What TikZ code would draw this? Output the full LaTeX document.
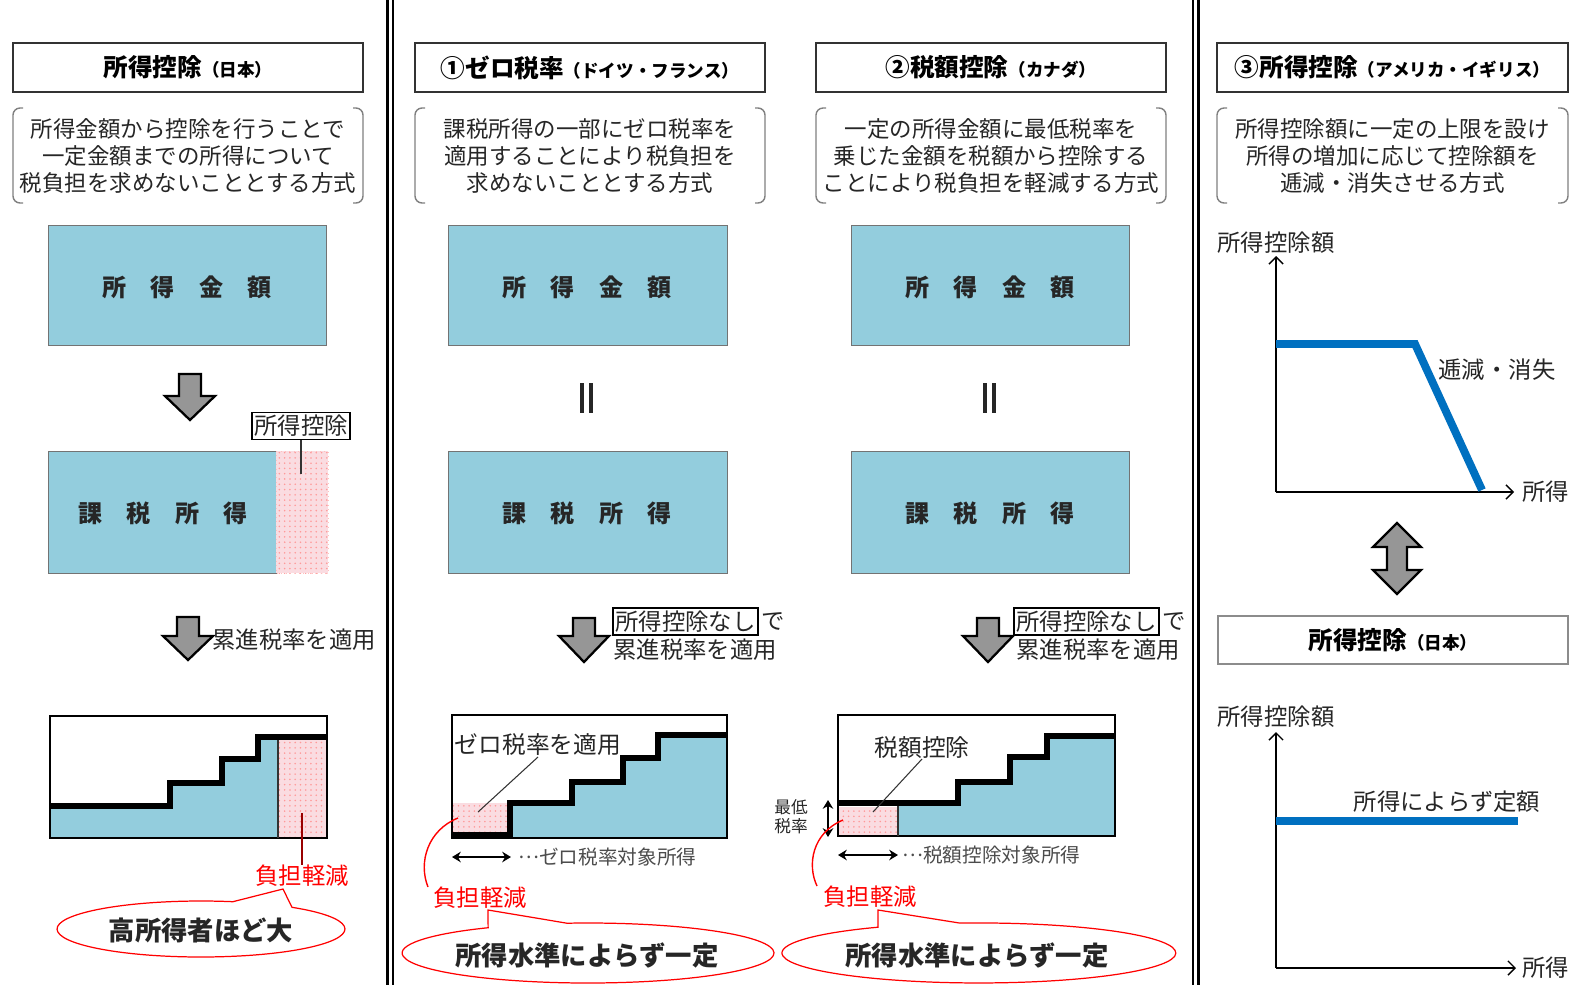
\documentclass[tikz,border=0pt]{standalone}
\usepackage{fontspec}
\setmainfont{Noto Sans CJK JP}
\usetikzlibrary{arrows.meta,patterns}
\definecolor{boxblue}{RGB}{147,205,221}
\definecolor{pinkbg}{RGB}{250,220,225}
\definecolor{lineblue}{RGB}{0,112,192}
\definecolor{arrowgray}{RGB}{150,150,150}
\newcommand{\mysub}[1]{{\fontsize{10}{11}\selectfont #1}}
\newcommand{\mydots}{\raisebox{0.3em}{…}}
\newcommand{\mydownarrow}[4]{%
  \draw[blockarrow] (#1-11,#2) -- (#1+11,#2) -- (#1+11,#3) -- (#1+25,#3) -- (#1,#4) -- (#1-25,#3) -- (#1-11,#3) -- cycle;}
\newcommand{\mybracket}[4]{%
  \draw[bracketline] (#1+10,#2) -- (#1,#2) -- (#1,#4) -- (#1+10,#4);
  \draw[bracketline] (#3-10,#2) -- (#3,#2) -- (#3,#4) -- (#3-10,#4);}
\newcommand{\mypink}[4]{%
  \fill[pinkbg] (#1,#2) rectangle (#3,#4);
  \fill[pattern=dots, pattern color=red!40] (#1,#2) rectangle (#3,#4);}
\begin{document}
\begin{tikzpicture}[x=0.02cm, y=-0.02cm,
  sepline/.style={draw=black, line width=1.6pt},
  titlebox/.style={draw=black!80, line width=1.1pt, fill=white},
  titletext/.style={font=\fontsize{14}{16}\selectfont\bfseries, inner sep=0pt},
  bracketline/.style={draw=black!50, line width=0.8pt, rounded corners=4pt},
  desc/.style={font=\fontsize{12.8}{15.6}\selectfont, align=center, text=black!85, inner sep=0pt},
  bluebox/.style={fill=boxblue, draw=black!55, line width=0.5pt},
  boxtext/.style={font=\fontsize{13.7}{15}\selectfont\bfseries, text=black!85, inner sep=0pt},
  blockarrow/.style={fill=arrowgray, draw=black, line width=1.3pt, line join=miter},
  label/.style={font=\fontsize{13.3}{15}\selectfont, text=black!85, inner sep=0pt},
  boxed/.style={draw=black, line width=1pt, inner sep=1.5pt, fill=white},
  frame/.style={draw=black, line width=0.8pt},
  divider/.style={draw=black!80, line width=0.7pt},
  stepline/.style={draw=black, line width=3.8pt, line join=miter},
  leader/.style={draw=black!80, line width=0.6pt},
  redtext/.style={font=\fontsize{13.3}{15}\selectfont, text=red, inner sep=0pt},
  redline/.style={draw=red, line width=0.8pt},
  callout/.style={draw=red, line width=0.7pt, fill=white},
  callouttext/.style={font=\fontsize{15}{17}\selectfont\bfseries, text=black!85, inner sep=0pt},
  smallgray/.style={font=\fontsize{11.2}{13}\selectfont, text=black!70, inner sep=0pt},
  dblarrow/.style={draw=black, line width=1.6pt, {Stealth[length=5pt,width=6pt]}-{Stealth[length=5pt,width=6pt]}},
  axis/.style={draw=black, line width=0.8pt, -{Straight Barb[length=4pt,width=8pt]}},
  curveblue/.style={draw=lineblue, line width=4.5pt, line join=miter},
  eqline/.style={draw=black!85, line width=2.6pt}]
\useasboundingbox (0,0) rectangle (1576,985);
\fill[white] (0,0) rectangle (1576,985);

% separators
\draw[sepline] (387.5,0) -- (387.5,985);
\draw[sepline] (393,0) -- (393,985);
\draw[sepline] (1193,0) -- (1193,985);
\draw[sepline] (1198.5,0) -- (1198.5,985);

%================ Column 1 ================
\draw[titlebox] (13,43) rectangle (363,92);
\node[titletext] (t1) at (188,67.5) {所得控除\mysub{（日本）}};
\mybracket{13}{108}{363}{203}
\node[desc] (d1) at (188,156) {所得金額から控除を行うことで\\一定金額までの所得について\\税負担を求めないこととする方式};
\draw[bluebox] (48,225) rectangle (326,345);
\node[boxtext] (b1) at (187,287) {所　得　金　額};
\mydownarrow{190}{374}{396}{420}
\draw[bluebox] (48,451) rectangle (276,573);
\mypink{276}{451}{328}{573}
\draw[draw=red!25, line width=0.5pt, dotted] (276,451) rectangle (328,573);
\node[boxtext] (b2) at (163,513) {課　税　所　得};
\node[label, boxed] (l1) at (301,426) {所得控除};
\coordinate (l1p) at (301,474);
\draw[leader] (l1.south) -- (l1p);
\mydownarrow{188}{617}{636}{660}
\node[label, anchor=west] (a1) at (212,640) {累進税率を適用};
% chart 1
\fill[boxblue] (50,838) -- (50,806) -- (170,806) -- (170,783) -- (222,783) -- (222,759) -- (258,759) -- (258,737) -- (278,737) -- (278,838) -- cycle;
\mypink{278}{737}{327}{838}
\draw[frame] (50,716) rectangle (327,838);
\draw[divider] (278,737) -- (278,838);
\draw[stepline] (50,806) -- (170,806) -- (170,783) -- (222,783) -- (222,759) -- (258,759) -- (258,737) -- (328,737);
\node[redtext] (r1) at (302,876) {負担軽減};
\coordinate (r1p) at (302,813);
\draw[draw=red!60!black, line width=0.6pt] (r1p) -- (r1.north);
\draw[callout] (292,907.3) arc[start angle=50.8, end angle=-282.8, x radius=2.88cm, y radius=0.56cm] -- (283,889) -- cycle;
\node[callouttext] (c1) at (201,930) {高所得者ほど大};

%================ Column 2 ================
\draw[titlebox] (415,43) rectangle (765,92);
\node[titletext] (t2) at (590,67.5) {①ゼロ税率\mysub{（ドイツ・フランス）}};
\mybracket{415}{108}{765}{203}
\node[desc] (d2) at (590,156) {課税所得の一部にゼロ税率を\\適用することにより税負担を\\求めないこととする方式};
\draw[bluebox] (448,225) rectangle (727,345);
\node[boxtext] (b3) at (587,287) {所　得　金　額};
\draw[eqline] (582,383) -- (582,413);
\draw[eqline] (591,383) -- (591,413);
\draw[bluebox] (448,451) rectangle (727,573);
\node[boxtext] (b4) at (587,513) {課　税　所　得};
\mydownarrow{584}{618}{636}{662}
\node[label, boxed, anchor=west] (n1) at (612,621.5) {所得控除なし};
\node[label, anchor=west] (n1b) at ([xshift=1pt]n1.east) {で};
\node[label, anchor=west] (n1c) at (613,650) {累進税率を適用};
% chart 2
\fill[boxblue] (510,838) -- (510,803) -- (572,803) -- (572,782) -- (623,782) -- (623,758) -- (658,758) -- (658,735) -- (727,735) -- (727,838) -- cycle;
\mypink{452}{803}{510}{835}
\draw[frame] (452,715) rectangle (727,838);
\draw[stepline] (452,835) -- (510,835) -- (510,803) -- (572,803) -- (572,782) -- (623,782) -- (623,758) -- (658,758) -- (658,735) -- (727,735);
\node[label, font=\fontsize{13.5}{15}\selectfont] (z2) at (538,745) {ゼロ税率を適用};
\coordinate (z2a) at (538,757);
\coordinate (z2b) at (478,812);
\draw[leader] (z2a) -- (z2b);
\coordinate (h2a) at (452,857);
\coordinate (h2b) at (511,857);
\draw[dblarrow] (h2a) -- (h2b);
\node[smallgray, anchor=west] (s2) at (518,857) {\mydots ゼロ税率対象所得};
\coordinate (p2) at (458,818);
\coordinate (q2) at (428,887);
\draw[redline] (p2) .. controls (428,830) and (418,862) .. (q2);
\node[redtext] (r2) at (480,898) {負担軽減};
\draw[callout] (567,923.2) arc[start angle=96.5, end angle=-237.5, x radius=3.72cm, y radius=0.6cm] -- (488,910) -- cycle;
\node[callouttext] (c2) at (587,955) {所得水準によらず一定};

%================ Column 3 ================
\draw[titlebox] (816,43) rectangle (1166,92);
\node[titletext] (t3) at (991,67.5) {②税額控除\mysub{（カナダ）}};
\mybracket{816}{108}{1166}{203}
\node[desc] (d3) at (991,156) {一定の所得金額に最低税率を\\乗じた金額を税額から控除する\\ことにより税負担を軽減する方式};
\draw[bluebox] (851,225) rectangle (1129,345);
\node[boxtext] (b5) at (990,287) {所　得　金　額};
\draw[eqline] (985,383) -- (985,413);
\draw[eqline] (994,383) -- (994,413);
\draw[bluebox] (851,451) rectangle (1129,573);
\node[boxtext] (b6) at (990,513) {課　税　所　得};
\mydownarrow{988}{618}{636}{662}
\node[label, boxed, anchor=west] (n2) at (1013,621.5) {所得控除なし};
\node[label, anchor=west] (n2b) at ([xshift=1pt]n2.east) {で};
\node[label, anchor=west] (n2c) at (1016,650) {累進税率を適用};
% chart 3
\fill[boxblue] (898,836) -- (898,803) -- (958,803) -- (958,782) -- (1010,782) -- (1010,757) -- (1047,757) -- (1047,736) -- (1115,736) -- (1115,836) -- cycle;
\mypink{838}{807}{898}{836}
\draw[frame] (838,715) rectangle (1115,836);
\draw[divider] (898,803) -- (898,836);
\draw[stepline] (838,803) -- (958,803) -- (958,782) -- (1010,782) -- (1010,757) -- (1047,757) -- (1047,736) -- (1115,736);
\node[label, font=\fontsize{13.5}{15}\selectfont] (z3) at (922,747) {税額控除};
\coordinate (z3a) at (922,759);
\coordinate (z3b) at (873,812);
\draw[leader] (z3a) -- (z3b);
\node[font=\fontsize{9.5}{11}\selectfont, align=center, text=black!85, inner sep=0pt] (m3) at (791,817) {最低\\税率};
\coordinate (v3a) at (828,800);
\coordinate (v3b) at (828,837);
\draw[dblarrow] (v3a) -- (v3b);
\coordinate (h3a) at (838,855);
\coordinate (h3b) at (898,855);
\draw[dblarrow] (h3a) -- (h3b);
\node[smallgray, anchor=west] (s3) at (902,855) {\mydots 税額控除対象所得};
\coordinate (p3) at (843,820);
\coordinate (q3) at (817,886);
\draw[redline] (p3) .. controls (812,833) and (807,865) .. (q3);
\node[redtext] (r3) at (870,897) {負担軽減};
\draw[callout] (960,923.1) arc[start angle=95.5, end angle=-239.2, x radius=3.94cm, y radius=0.6cm] -- (878,910) -- cycle;
\node[callouttext] (c3) at (977,955) {所得水準によらず一定};

%================ Column 4 ================
\draw[titlebox] (1217,43) rectangle (1568,92);
\node[titletext] (t4) at (1392.5,67.5) {③所得控除\mysub{（アメリカ・イギリス）}};
\mybracket{1217}{108}{1568}{203}
\node[desc] (d4) at (1392.5,156) {所得控除額に一定の上限を設け\\所得の増加に応じて控除額を\\逓減・消失させる方式};
% graph 1
\node[label] (g1y) at (1276,243) {所得控除額};
\coordinate (o1) at (1276,492);
\coordinate (y1) at (1276,256);
\coordinate (x1) at (1514,492);
\draw[axis] (o1) -- (y1);
\draw[axis] (o1) -- (x1);
\node[label, anchor=west] (g1x) at (1522,492) {所得};
\coordinate (k1) at (1276,344);
\coordinate (k2) at (1415,344);
\coordinate (k3) at (1482,490);
\draw[curveblue] (k1) -- (k2) -- (k3);
\node[label] (g1l) at (1497,370) {逓減・消失};
% double block arrow
\draw[blockarrow] (1397,523) -- (1421,547) -- (1407,547) -- (1407,570) -- (1421,570) -- (1397,594) -- (1373,570) -- (1387,570) -- (1387,547) -- (1373,547) -- cycle;
\draw[titlebox, draw=black!45] (1218,616) rectangle (1568,664);
\node[titletext] (t5) at (1393,640) {所得控除\mysub{（日本）}};
% graph 2
\node[label] (g2y) at (1276,717) {所得控除額};
\coordinate (o2) at (1276,968);
\coordinate (y2) at (1276,732);
\coordinate (x2) at (1516,968);
\draw[axis] (o2) -- (y2);
\draw[axis] (o2) -- (x2);
\node[label, anchor=west] (g2x) at (1522,968) {所得};
\coordinate (k4) at (1276,821);
\coordinate (k5) at (1518,821);
\draw[curveblue] (k4) -- (k5);
\node[label] (g2l) at (1447,802) {所得によらず定額};
\end{tikzpicture}
\end{document}
